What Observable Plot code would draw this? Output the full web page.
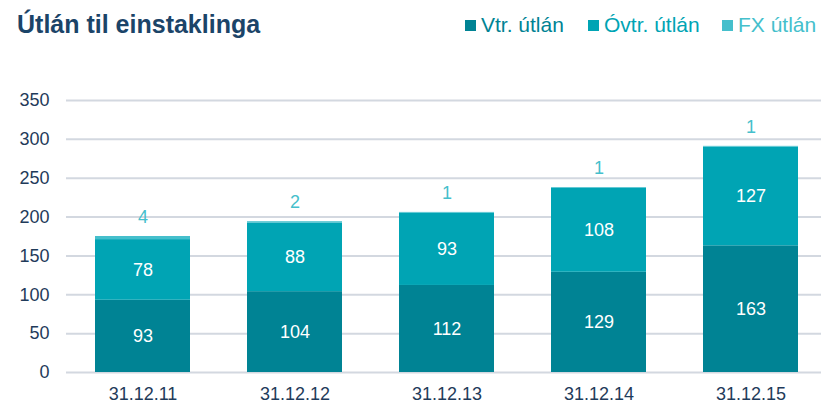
<!DOCTYPE html>
<html><head><meta charset="utf-8">
<script src="https://cdn.jsdelivr.net/npm/d3@7"></script>
<script src="https://cdn.jsdelivr.net/npm/@observablehq/plot@0.6"></script>
<style>
body{margin:0;background:#fff;font-family:"Liberation Sans",Arial,sans-serif;}
#wrap{position:relative;width:821px;height:403px;overflow:hidden;}
#title{position:absolute;left:17px;top:12px;font-size:25px;line-height:1;font-weight:bold;color:#1B4468;white-space:nowrap;}
.li{position:absolute;top:0;height:40px;}
.sw{position:absolute;left:0;top:20px;width:11px;height:11px;}
.lt{position:absolute;left:16px;top:14px;font-size:21px;line-height:1;white-space:nowrap;}
#chart{position:absolute;left:0;top:60px;}
</style></head><body>
<div id="wrap">
<div id="title">Útlán til einstaklinga</div>
<div id="legend"></div>
<div id="chart"></div>
</div>
<script>
const dates = ["31.12.11","31.12.12","31.12.13","31.12.14","31.12.15"];
const seriesNames = ["Vtr. útlán","Óvtr. útlán","FX útlán"];
const vtr = [93,104,112,129,163];
const ovtr = [78,88,93,108,127];
const fx = [4,2,1,1,1];
const yTicks = [0,50,100,150,200,250,300,350];
const colors = ["#008394","#00A4B4","#45BFCC"];

const rows = [];
dates.forEach((d,i)=>{
  rows.push({date:d, series:seriesNames[0], value:vtr[i]});
  rows.push({date:d, series:seriesNames[1], value:ovtr[i]});
  rows.push({date:d, series:seriesNames[2], value:fx[i]});
});
const totals = dates.map((d,i)=>({date:d, total:vtr[i]+ovtr[i]+fx[i], fx:fx[i]}));

const leg = document.getElementById("legend");
const legLeft = [465, 588, 722];
seriesNames.forEach((s,i)=>{
  const el=document.createElement("div");el.className="li";el.style.left=legLeft[i]+"px";
  el.innerHTML=`<div class="sw" style="background:${colors[i]}"></div><span class="lt" style="color:${colors[i]}">${s}</span>`;
  leg.appendChild(el);
});

const plot = Plot.plot({
  width:821, height:343,
  marginTop:40, marginBottom:31, marginLeft:66, marginRight:0,
  style:{fontFamily:"Liberation Sans, Arial, sans-serif", fontSize:"18px", color:"#1F3B5A", background:"#fff", overflow:"visible"},
  x:{domain:dates, range:[94.3,799.3], paddingInner:0.377, paddingOuter:0, label:null},
  y:{domain:[0,350], label:null},
  color:{domain:seriesNames, range:colors},
  marks:[
    Plot.ruleY(yTicks,{stroke:"#D3D8E0", strokeWidth:2}),
    Plot.barY(rows, Plot.stackY({x:"date", y:"value", fill:"series", order:seriesNames})),
    Plot.text(rows, Plot.stackY({x:"date", y:"value", z:"series", order:seriesNames, text:d=>d.series==="FX útlán"?"":String(d.value), fill:"white", fontSize:18})),
    Plot.text(totals,{x:"date", y:"total", text:d=>String(d.fx), dy:-19, fill:"#45BFCC", fontSize:18}),
    Plot.axisX({tickSize:0, tickPadding:15, fontSize:18, label:null}),
    Plot.axisY({ticks:yTicks, tickSize:0, tickPadding:17, fontSize:18, label:null})
  ]
});
document.getElementById("chart").appendChild(plot);
</script>
</body></html>
